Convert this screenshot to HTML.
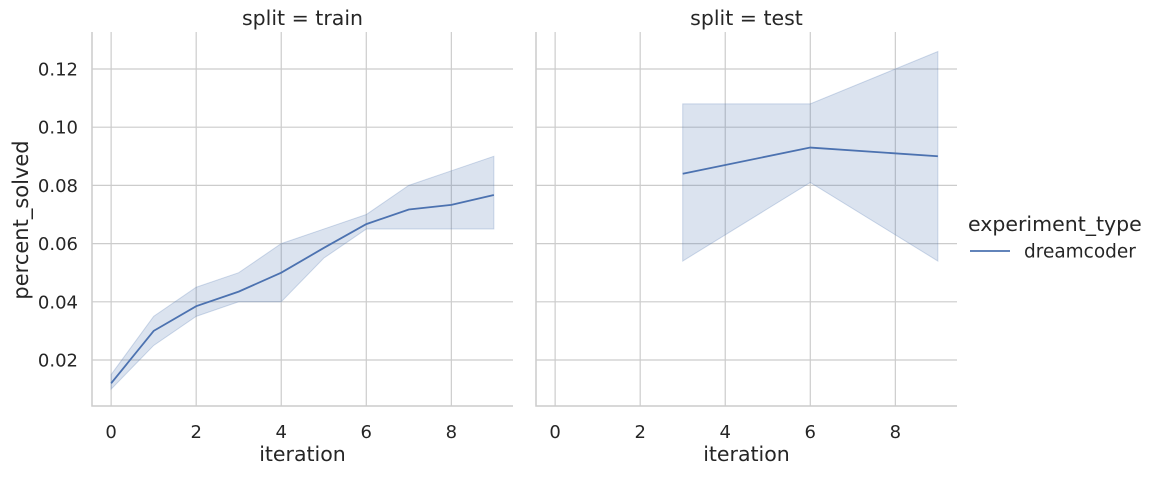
<!DOCTYPE html>
<html><head><meta charset="utf-8"><style>
body{margin:0;background:#fff;}
svg text{font-family:"DejaVu Sans","Liberation Sans",sans-serif;fill:#262626;}
</style></head><body>
<svg id="chart" width="1161" height="474" xmlns="http://www.w3.org/2000/svg"></svg>
<script>
const iterations=[0,1,2,3,4,5,6,7,8,9];
const trainMean=[0.012,0.030,0.0385,0.0435,0.050,0.0585,0.0667,0.0717,0.0733,0.0767];
const trainLow=[0.010,0.025,0.035,0.040,0.040,0.055,0.065,0.065,0.065,0.065];
const trainHigh=[0.015,0.035,0.045,0.050,0.060,0.065,0.070,0.080,0.085,0.090];
const testIter=[3,6,9];
const testMean=[0.084,0.093,0.090];
const testLow=[0.054,0.081,0.054];
const testHigh=[0.108,0.108,0.126];
const xTicks=[0,2,4,6,8];
const yTicks=[0.02,0.04,0.06,0.08,0.10,0.12];
const yLabels=["0.02","0.04","0.06","0.08","0.10","0.12"];

const NS="http://www.w3.org/2000/svg";
const svg=document.getElementById('chart');
function mk(tag,attrs,parent){const e=document.createElementNS(NS,tag);for(const k in attrs)e.setAttribute(k,attrs[k]);(parent||svg).appendChild(e);return e;}
const plotTop=32,plotBottom=406,yMin=0.0042,yMax=0.1327;
function yScale(v){return plotBottom-(v-yMin)/(yMax-yMin)*(plotBottom-plotTop);}
const panels=[{x0:92,x1:513,title:"split = train",it:iterations,m:trainMean,lo:trainLow,hi:trainHigh,name:"train"},
{x0:536,x1:957,title:"split = test",it:testIter,m:testMean,lo:testLow,hi:testHigh,name:"test"}];
const xMin=-0.45,xMax=9.45;
panels.forEach((p,pi)=>{
  const xs=v=>p.x0+(v-xMin)/(xMax-xMin)*(p.x1-p.x0);
  const g=mk('g',{});
  
  
  xTicks.forEach(t=>{const l=mk('line',{x1:xs(t),x2:xs(t),y1:plotTop,y2:plotBottom,stroke:'#cccccc','stroke-width':1.2},g);
    
    
    const tx=mk('text',{x:xs(t),y:438,'text-anchor':'middle','font-size':18},g);tx.textContent=t;
    
    });
  yTicks.forEach((t,i)=>{const l=mk('line',{x1:p.x0,x2:p.x1,y1:yScale(t),y2:yScale(t),stroke:'#cccccc','stroke-width':1.2},g);
    
    
    if(pi===0){const tx=mk('text',{x:p.x0-14,y:yScale(t)+6.5,'text-anchor':'end','font-size':18},g);tx.textContent=yLabels[i];
      
      }});
  const sp=mk('path',{d:`M${p.x0},${plotTop}V${plotBottom}H${p.x1}`,stroke:'#cccccc','stroke-width':1.5,fill:'none'},g);
  
  
  let d='';p.it.forEach((v,i)=>d+=(i?'L':'M')+xs(v)+','+yScale(p.hi[i]));
  for(let i=p.it.length-1;i>=0;i--)d+='L'+xs(p.it[i])+','+yScale(p.lo[i]);
  const band=mk('path',{d:d+'Z',fill:'#4c72b0','fill-opacity':0.2,stroke:'#4c72b0','stroke-opacity':0.25},g);
  
  
  let ld='';p.it.forEach((v,i)=>ld+=(i?'L':'M')+xs(v)+','+yScale(p.m[i]));
  const line=mk('path',{d:ld,fill:'none',stroke:'#4c72b0','stroke-width':1.8},g);
  
  
  const tt=mk('text',{x:(p.x0+p.x1)/2,y:25,'text-anchor':'middle','font-size':20.5},g);tt.textContent=p.title;
  
  
  const xl=mk('text',{x:(p.x0+p.x1)/2,y:461,'text-anchor':'middle','font-size':20.5},g);xl.textContent='iteration';
  
  
});
const yl=mk('text',{x:0,y:0,'text-anchor':'middle','font-size':21,transform:'translate(28,220) rotate(-90)'});yl.textContent='percent_solved';


const lg=mk('g',{});


const lt=mk('text',{x:968,y:231,'font-size':20.5},lg);lt.textContent='experiment_type';


const ll=mk('line',{x1:970,x2:1010,y1:251,y2:251,stroke:'#4c72b0','stroke-width':1.8},lg);


const le=mk('text',{x:1024,y:257.5,'font-size':18.5},lg);le.textContent='dreamcoder';


</script>
</body></html>
